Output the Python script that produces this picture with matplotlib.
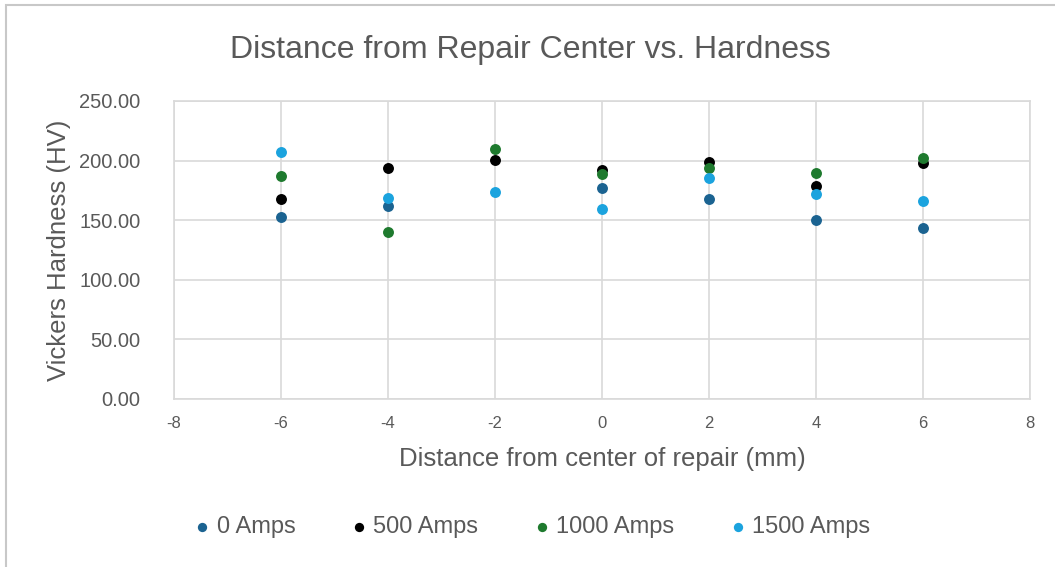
import matplotlib.pyplot as plt
from matplotlib.patches import Rectangle

plt.rcParams['font.family'] = ['Liberation Sans Narrow', 'Liberation Sans', 'DejaVu Sans']
plt.rcParams['axes.unicode_minus'] = False

distance = [-6, -4, -2, 0, 2, 4, 6]
hv_0 = [152.3, 161.9, None, 177.3, 167.8, 150.2, 143.2]
hv_500 = [167.8, 194.0, 200.5, 192.0, 199.0, 178.7, 197.7]
hv_1000 = [187.0, 140.4, 209.5, 188.8, 193.5, 189.9, 201.9]
hv_1500 = [207.5, 168.4, 173.4, 159.4, 185.7, 172.0, 166.4]

series = [
    ("0 Amps", hv_0, "#1b6391"),
    ("500 Amps", hv_500, "#000000"),
    ("1000 Amps", hv_1000, "#1e7a2e"),
    ("1500 Amps", hv_1500, "#1ba3de"),
]

TXT = "#595959"
GRID = "#d9d9d9"

fig = plt.figure(figsize=(10.55, 5.67), dpi=100)
fig.patch.set_facecolor("white")
# outer chart border
fig.add_artist(Rectangle((6 / 1055, -0.05), 1.1, 1.05 - 5 / 567, transform=fig.transFigure,
                         fill=False, edgecolor="#c8c8c8", linewidth=1.5))

ax = fig.add_axes([174 / 1055, 1 - 399 / 567, (1030 - 174) / 1055, (399 - 101) / 567])

for label, vals, color in series:
    xs = [x for x, v in zip(distance, vals) if v is not None]
    ys = [v for v in vals if v is not None]
    ax.scatter(xs, ys, s=62, color=color, label=label, zorder=3, linewidths=0)

ax.set_xlim(-8, 8)
ax.set_ylim(0, 250)
ax.set_xticks(range(-8, 9, 2))
ax.set_yticks(range(0, 251, 50))
ax.set_yticklabels([f"{v:.2f}" for v in range(0, 251, 50)])
ax.grid(True, color=GRID, linewidth=1.2, zorder=0)
ax.set_axisbelow(True)
for side in ax.spines.values():
    side.set_color(GRID)
    side.set_linewidth(1.2)
ax.tick_params(axis="both", length=0, colors=TXT)
ax.tick_params(axis="x", pad=12, labelsize=12)
ax.tick_params(axis="y", pad=24, labelsize=14.5)

ax.set_xlabel("Distance from center of repair (mm)", fontsize=18.5, color=TXT, labelpad=12)
ax.set_ylabel("Vickers Hardness (HV)", fontsize=18.5, color=TXT, labelpad=6)
fig.text(530 / 1055, 1 - 50 / 567, "Distance from Repair Center vs. Hardness",
         ha="center", va="center", fontsize=23, color=TXT)

leg = ax.legend(loc="center", bbox_to_anchor=(0.415, -0.43), ncol=4, frameon=False,
                fontsize=17, markerscale=0.85, handlelength=1.2, handletextpad=0.0,
                columnspacing=2.1, labelcolor=TXT)

fig.savefig("out.png", dpi=100)
